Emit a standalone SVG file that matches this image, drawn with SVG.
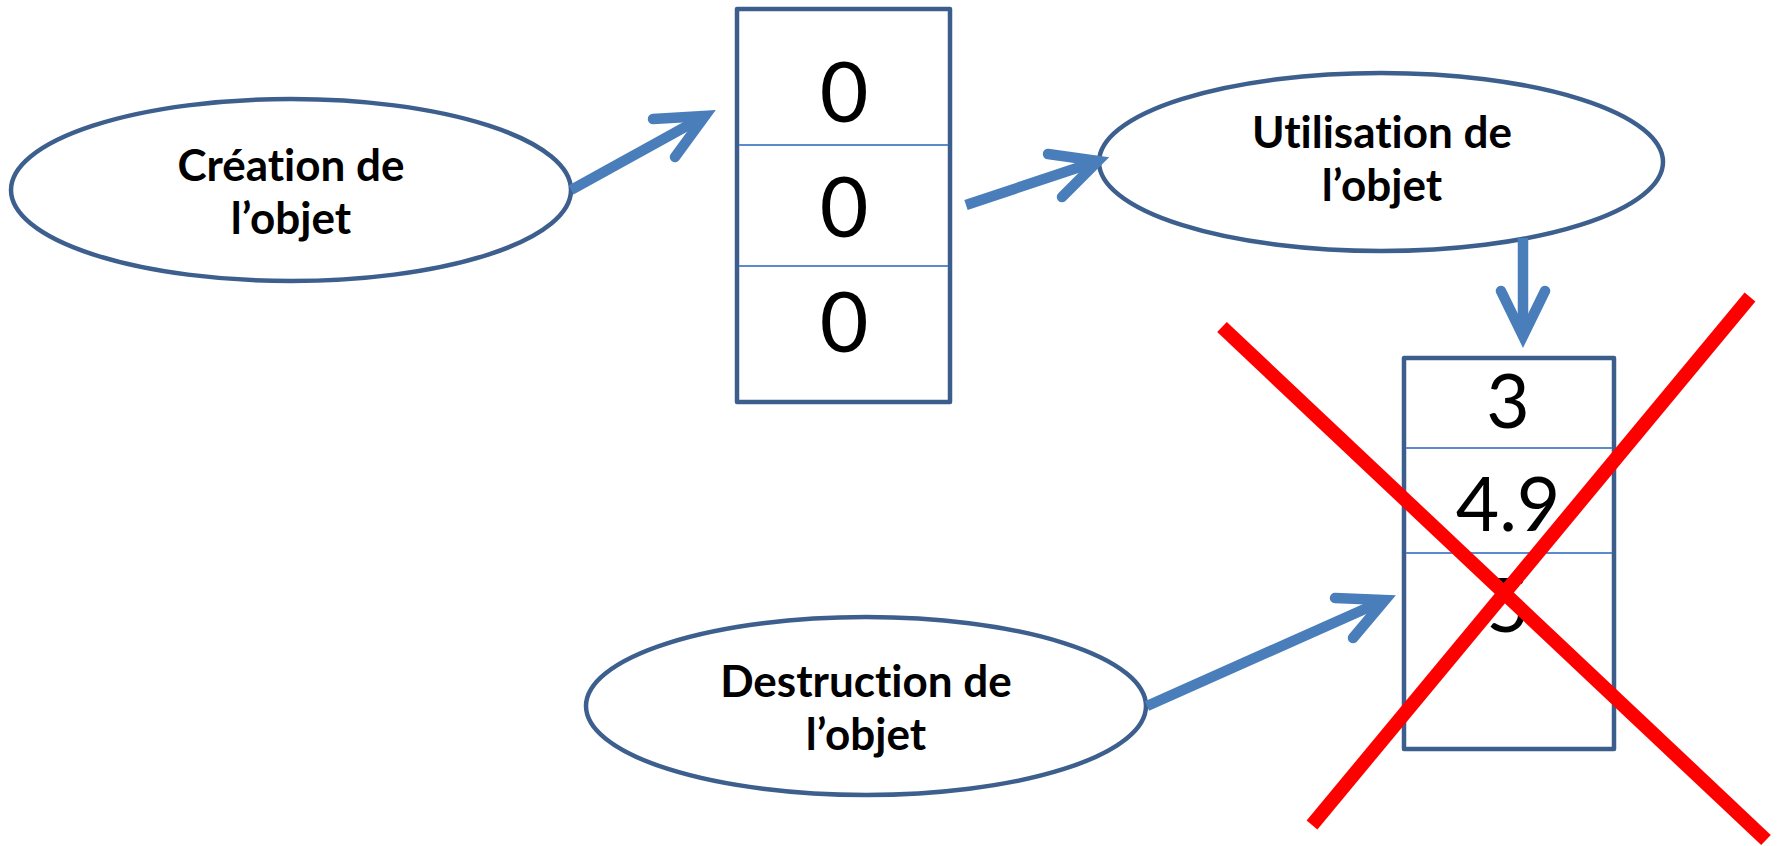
<svg xmlns="http://www.w3.org/2000/svg" width="1781" height="846" viewBox="0 0 1781 846">
<style>
.ell{fill:#fff;stroke:#3d5f8e;stroke-width:4.5}
.lbl{font-family:Lato,"Liberation Sans",sans-serif;font-weight:700;font-size:44px;fill:#000;text-anchor:middle;font-variant-ligatures:none;font-feature-settings:"liga" 0}
.box{fill:#fff;stroke:#3b5e8d;stroke-width:4.5;stroke-linejoin:round}
.div{stroke:#5b8bcc;stroke-width:1.8}
.num{font-family:Lato,"Liberation Sans",sans-serif;font-weight:400;fill:#000;text-anchor:middle}
.arr{fill:none;stroke:#4a7ebb;stroke-width:10.5}
.head{fill:none;stroke:#4a7ebb;stroke-width:10.5;stroke-linecap:round;stroke-linejoin:miter;stroke-miterlimit:10}
.cross{stroke:#ff0000;stroke-width:14;stroke-linecap:butt}
</style>
<rect width="1781" height="846" fill="#fff"/>
<g id="creation">
<ellipse class="ell" cx="291" cy="190" rx="280" ry="91"/>
<text class="lbl" x="291" y="181">Création de</text>
<text class="lbl" x="291" y="234">l’objet</text>
</g>
<g id="objet-initial">
<rect class="box" x="737" y="9" width="213" height="393"/>
<line class="div" x1="739" y1="145" x2="948" y2="145"/>
<line class="div" x1="739" y1="266" x2="948" y2="266"/>
<text class="num" x="844" y="122" font-size="84">0</text>
<text class="num" x="844" y="237" font-size="84">0</text>
<text class="num" x="844" y="352" font-size="84">0</text>
</g>
<g id="utilisation">
<ellipse class="ell" cx="1381" cy="162" rx="282" ry="89"/>
<text class="lbl" x="1382" y="148">Utilisation de</text>
<text class="lbl" x="1382" y="201">l’objet</text>
</g>
<g id="objet-modifie">
<rect class="box" x="1404" y="358" width="210" height="391"/>
<line class="div" x1="1406" y1="448" x2="1612" y2="448"/>
<line class="div" x1="1406" y1="553" x2="1612" y2="553"/>
<text class="num" x="1508" y="428" font-size="75">3</text>
<text class="num" x="1508" y="531" font-size="75">4.9</text>
<text class="num" x="1508" y="632" font-size="75">5</text>
</g>
<g id="destruction">
<ellipse class="ell" cx="866" cy="706" rx="280" ry="89"/>
<text class="lbl" x="866" y="697">Destruction de</text>
<text class="lbl" x="866" y="750">l’objet</text>
</g>
<g id="connectors">
<line class="arr" x1="571" y1="190" x2="705" y2="116"/>
<polyline class="head" points="653,119 705,116 675,157"/>
<line class="arr" x1="966" y1="205" x2="1098" y2="161"/>
<polyline class="head" points="1048,154 1098,161 1062,197"/>
<line class="arr" x1="1523" y1="238" x2="1523" y2="336"/>
<polyline class="head" points="1501,291 1523,336 1545,291"/>
<line class="arr" x1="1147" y1="706" x2="1385" y2="600"/>
<polyline class="head" points="1335,598 1385,600 1353,638"/>
</g>
<g id="croix">
<line class="cross" x1="1222" y1="327" x2="1766" y2="840"/>
<line class="cross" x1="1750" y1="297" x2="1312" y2="825"/>
</g>
</svg>
